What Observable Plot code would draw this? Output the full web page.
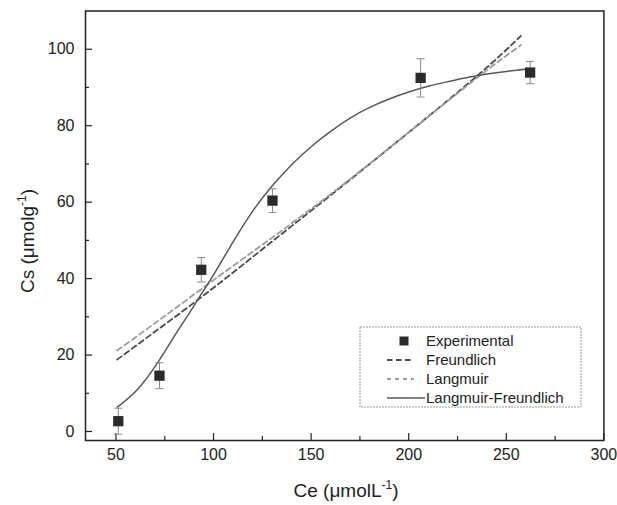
<!DOCTYPE html>
<html><head><meta charset="utf-8">
<script src="https://cdn.jsdelivr.net/npm/d3@7"></script>
<script src="https://cdn.jsdelivr.net/npm/@observablehq/plot@0.6"></script>
<style>body{margin:0;background:#fff} svg{display:block}</style>
</head><body><div id="chart"></div>
<script>
// Experimental data
const ce = [51.2, 72.3, 93.7, 130.2, 206.1, 262.2];
const cs = [2.7, 14.6, 42.3, 60.4, 92.5, 93.9];
const csErr = [3.4, 3.4, 3.2, 3.1, 5.0, 2.9];

// Fitted curves
const freundlichX = [50.6, 75, 100, 130, 160, 196, 235, 257.5];
const freundlichY = [18.8, 28.0, 37.6, 49.7, 61.8, 76.6, 93.0, 103.5];
const langmuirX = [50.6, 75, 100, 130, 160, 196, 235, 257.5];
const langmuirY = [21.2, 30.2, 39.6, 50.7, 62.1, 76.6, 92.5, 101.1];
const lfX = [50.7, 61, 72, 80, 87, 95, 100, 110, 120, 130, 140, 150, 160, 170, 180, 190, 200, 210, 220, 230, 240, 250, 261];
const lfY = [6.4, 11, 18.5, 25, 30.5, 37, 41, 49.6, 57.6, 64.2, 69.8, 74.5, 78.5, 82, 84.8, 87, 88.8, 90.3, 91.5, 92.6, 93.5, 94.2, 94.8];

// Ticks
const xTicks = [50, 100, 150, 200, 250, 300];
const xMinor = [75, 125, 175, 225, 275];
const yTicks = [0, 20, 40, 60, 80, 100];
const yMinor = [10, 30, 50, 70, 90];

const legendLabels = ["Experimental", "Freundlich", "Langmuir", "Langmuir-Freundlich"];

const pts = ce.map((x, i) => ({x, y: cs[i], lo: cs[i] - csErr[i], hi: cs[i] + csErr[i]}));
const fr = freundlichX.map((x, i) => ({x, y: freundlichY[i]}));
const la = langmuirX.map((x, i) => ({x, y: langmuirY[i]}));
const lf = lfX.map((x, i) => ({x, y: lfY[i]}));

const capSymbol = {draw(ctx) { ctx.moveTo(-4, 0); ctx.lineTo(4, 0); }};

const W = 617, H = 505;
const chart = Plot.plot({
  width: W, height: H,
  marginLeft: 85, marginRight: 13.6, marginTop: 10.5, marginBottom: 65,
  style: {fontFamily: "'Liberation Sans', Arial, sans-serif", background: "#fff", color: "#222"},
  x: {domain: [34.4, 300]},
  y: {domain: [-2.35, 110]},
  marks: [
    Plot.axisX({ticks: xTicks, tickSize: -7, tickPadding: 15, fontSize: 16, label: null, stroke: "#222", strokeWidth: 1.2}),
    Plot.axisX({ticks: xMinor, tickSize: -4, tickFormat: () => "", label: null, stroke: "#222", strokeWidth: 1.2}),
    Plot.axisY({ticks: yTicks, tickSize: -7, tickPadding: 18, fontSize: 16, label: null, stroke: "#222", strokeWidth: 1.2}),
    Plot.axisY({ticks: yMinor, tickSize: -4, tickFormat: () => "", label: null, stroke: "#222", strokeWidth: 1.2}),
    Plot.line(fr, {x: "x", y: "y", stroke: "#4a4a4a", strokeWidth: 1.8, strokeDasharray: "5.5,3.5", curve: "natural"}),
    Plot.line(la, {x: "x", y: "y", stroke: "#9c9c9c", strokeWidth: 1.8, strokeDasharray: "5.5,3.5", curve: "natural"}),
    Plot.line(lf, {x: "x", y: "y", stroke: "#585858", strokeWidth: 1.5, curve: "natural"}),
    Plot.ruleX(pts, {x: "x", y1: "lo", y2: "hi", stroke: "#888", strokeWidth: 1}),
    Plot.dot(pts, {x: "x", y: "lo", symbol: capSymbol, stroke: "#888", strokeWidth: 1, fill: "none"}),
    Plot.dot(pts, {x: "x", y: "hi", symbol: capSymbol, stroke: "#888", strokeWidth: 1, fill: "none"}),
    Plot.dot(pts, {x: "x", y: "y", symbol: "square", r: 5.8, fill: "#2b2b2b", stroke: "none"}),
    Plot.frame({stroke: "#222", strokeWidth: 1.5})
  ]
});
document.getElementById("chart").appendChild(chart);

const svg = d3.select(chart);
const font = "'Liberation Sans', Arial, sans-serif";

// axis titles
const xt = svg.append("text").attr("x", 346).attr("y", 497).attr("text-anchor", "middle")
  .attr("font-family", font).attr("font-size", 19).attr("fill", "#222");
xt.append("tspan").text("Ce (\u03bcmolL");
xt.append("tspan").attr("dy", -8).attr("font-size", 12).text("-1");
xt.append("tspan").attr("dy", 8).text(")");

const yt = svg.append("text").attr("transform", "translate(34,241) rotate(-90)").attr("text-anchor", "middle")
  .attr("font-family", font).attr("font-size", 19).attr("fill", "#222");
yt.append("tspan").text("Cs (\u03bcmolg");
yt.append("tspan").attr("dy", -8).attr("font-size", 12).text("-1");
yt.append("tspan").attr("dy", 8).text(")");

// legend
const lg = svg.append("g");
lg.append("rect").attr("x", 360).attr("y", 327).attr("width", 221).attr("height", 80)
  .attr("fill", "#fff").attr("stroke", "#999").attr("stroke-width", 1).attr("stroke-dasharray", "2,1");
const rowY = [341, 360, 379, 398];
lg.append("rect").attr("x", 399.5).attr("y", rowY[0] - 4.5).attr("width", 9).attr("height", 9).attr("fill", "#2b2b2b");
lg.append("line").attr("x1", 387).attr("x2", 414).attr("y1", rowY[1]).attr("y2", rowY[1])
  .attr("stroke", "#4a4a4a").attr("stroke-width", 1.8).attr("stroke-dasharray", "5.5,3.5");
lg.append("line").attr("x1", 387).attr("x2", 414).attr("y1", rowY[2]).attr("y2", rowY[2])
  .attr("stroke", "#9c9c9c").attr("stroke-width", 1.8).attr("stroke-dasharray", "4,4");
lg.append("line").attr("x1", 387).attr("x2", 425).attr("y1", rowY[3]).attr("y2", rowY[3])
  .attr("stroke", "#585858").attr("stroke-width", 1.5);
legendLabels.forEach((t, i) => {
  lg.append("text").attr("x", 426).attr("y", rowY[i]).attr("dy", "0.36em").attr("text-anchor", "start")
    .attr("font-family", font).attr("font-size", 15).attr("fill", "#222").text(t);
});
</script>
</body></html>
